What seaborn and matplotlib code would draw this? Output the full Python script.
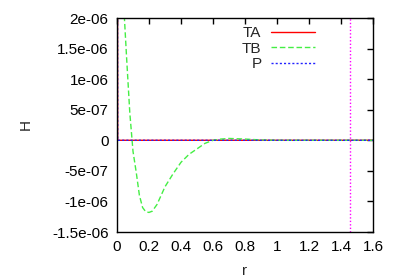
import numpy as np
import pandas as pd
import matplotlib
matplotlib.use("Agg")
import matplotlib.pyplot as plt
import seaborn as sns

# ---- data ----
r_tb = [0.0, 0.02, 0.04, 0.06, 0.08, 0.10, 0.12, 0.14, 0.16, 0.18, 0.20, 0.22,
        0.25, 0.30, 0.35, 0.40, 0.45, 0.50, 0.55, 0.60, 0.65, 0.70, 0.75, 0.80,
        0.90, 1.00, 1.20, 1.40, 1.60]
tb = [6.0e-6, 4.0e-6, 2.3e-6, 1.35e-6, 0.45e-6, -0.18e-6, -0.52e-6, -0.9e-6,
      -1.1e-6, -1.17e-6, -1.18e-6, -1.16e-6, -1.05e-6, -0.76e-6, -0.55e-6,
      -0.36e-6, -0.23e-6, -0.14e-6, -0.05e-6, 0.0, 0.02e-6, 0.03e-6, 0.025e-6,
      0.02e-6, 0.005e-6, 0.0, 0.0, 0.0, 0.0]
r_ta = [0.0, 0.004, 0.8, 1.6]
ta = [1.0e-5, 0.0, 0.0, 0.0]
r_p = [0.0, 0.004, 0.8, 1.6]
p = [1.0e-5, 0.0, 0.0, 0.0]
r_marker = 1.456
series_names = ["TA", "TB", "P"]
x_ticks = [0, 0.2, 0.4, 0.6, 0.8, 1.0, 1.2, 1.4, 1.6]
x_ticklabels = ["0", "0.2", "0.4", "0.6", "0.8", "1", "1.2", "1.4", "1.6"]
y_ticks = [-1.5e-6, -1e-6, -5e-7, 0, 5e-7, 1e-6, 1.5e-6, 2e-6]
y_ticklabels = ["-1.5e-06", "-1e-06", "-5e-07", "0", "5e-07", "1e-06", "1.5e-06", "2e-06"]

sns.set_theme(style="white")
plt.rcParams["font.family"] = ["Liberation Sans", "DejaVu Sans"]
plt.rcParams["font.size"] = 11

fig = plt.figure(figsize=(3.99, 2.79), dpi=100)
ax = fig.add_axes([117/399, 1-232/279, (373-117)/399, (232-18)/279])

sns.lineplot(x=r_ta, y=ta, ax=ax, color="#ff0000", lw=1, label=series_names[0])
sns.lineplot(x=r_tb, y=tb, ax=ax, color="#44ee44", lw=1, dashes=False, label=series_names[1])
ax.lines[-1].set_dashes([4, 2])
sns.lineplot(x=r_p, y=p, ax=ax, color="#2222ff", lw=1, label=series_names[2])
ax.lines[-1].set_dashes([1.5, 1.5])
ax.axvline(r_marker, color="#ff00ff", lw=1, dashes=[1, 1.5])

ax.set_xlim(0, 1.6)
ax.set_ylim(-1.5e-6, 2e-6)
ax.set_xticks(x_ticks)
ax.set_xticklabels(x_ticklabels)
ax.set_yticks(y_ticks)
ax.set_yticklabels(y_ticklabels)
ax.tick_params(direction="in", length=4.5, width=1, top=True, right=True,
               labelsize=11, pad=6, colors="black")
for s in ax.spines.values():
    s.set_color("black")
    s.set_linewidth(1)
ax.set_xlabel("r", fontsize=11, labelpad=7)
ax.set_ylabel("H", fontsize=11, labelpad=14)

leg = ax.legend(loc="upper right", bbox_to_anchor=(0.797, 0.99), frameon=False,
                markerfirst=False, handlelength=2.9, handletextpad=0.6,
                labelspacing=0.1, fontsize=11, borderaxespad=0)
try:
    leg._legend_box.get_children()[1].get_children()[0].align = "right"
except Exception:
    pass

fig.savefig("out.png", dpi=100)
